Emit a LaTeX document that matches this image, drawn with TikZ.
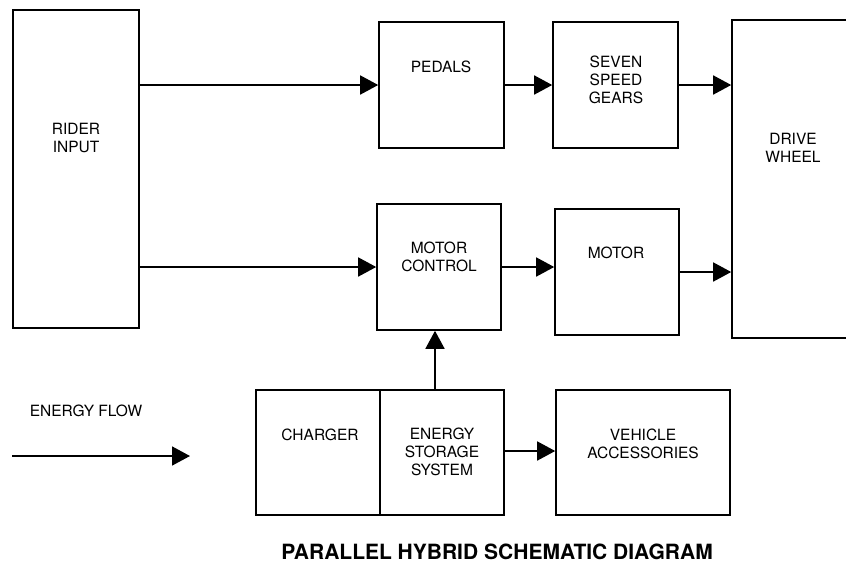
\documentclass[tikz,border=0pt]{standalone}
\usepackage{fontspec}
\setmainfont{TeX Gyre Heros}
\usetikzlibrary{arrows.meta}
\begin{document}
\begin{tikzpicture}[x=1pt,y=-1pt,
  box/.style={draw=black,line width=1.6pt,inner sep=0pt,anchor=center},
  lbl/.style={align=center,inner sep=0pt,font=\fontsize{15.5}{18}\selectfont},
  flow/.style={line width=1.6pt,-{Triangle[length=18pt,width=19pt]}}]
\useasboundingbox[fill=white] (0,0) rectangle (846,566);
% boxes
\node[box,minimum width=126pt,minimum height=318pt] (rider) at (76,169) {};
\node[box,minimum width=125pt,minimum height=126pt] (pedals) at (441.5,85) {};
\node[box,minimum width=125pt,minimum height=126pt] (gears) at (615.5,85) {};
\node[box,minimum width=168pt,minimum height=318pt] (wheel) at (816,179) {};
\node[box,minimum width=124pt,minimum height=126pt] (mc) at (439,267) {};
\node[box,minimum width=124pt,minimum height=126pt] (motor) at (617,272) {};
\node[box,minimum width=124pt,minimum height=125pt] (charger) at (318,452.5) {};
\node[box,minimum width=124pt,minimum height=125pt] (ess) at (442,452.5) {};
\node[box,minimum width=174pt,minimum height=125pt] (va) at (643,452.5) {};
% labels
\node[lbl] (trider) at (76,137.5) {RIDER\\INPUT};
\node[lbl] (tpedals) at (441,67) {PEDALS};
\node[lbl] (tgears) at (616,80) {SEVEN\\SPEED\\GEARS};
\node[lbl] (twheel) at (793,148) {DRIVE\\WHEEL};
\node[lbl] (tmc) at (439,257) {MOTOR\\CONTROL};
\node[lbl] (tmotor) at (616,253) {MOTOR};
\node[lbl] (tcharger) at (320,435) {CHARGER};
\node[lbl] (tess) at (442,452) {ENERGY\\STORAGE\\SYSTEM};
\node[lbl] (tva) at (643,444) {VEHICLE\\ACCESSORIES};
\node[lbl] (tflow) at (86,411) {ENERGY FLOW};
\node[inner sep=0pt,font=\fontsize{21}{24}\bfseries\selectfont] (title) at (497,552) {PARALLEL HYBRID SCHEMATIC DIAGRAM};
% connectors
\draw[flow] (rider.east |- pedals.west) -- (pedals.west);
\draw[flow] (rider.east |- mc.west) -- (mc.west);
\draw[flow] (pedals.east) -- (gears.west);
\draw[flow] (gears.east) -- (gears.east -| wheel.west);
\draw[flow] (mc.east) -- (mc.east -| motor.west);
\draw[flow] (motor.east) -- (motor.east -| wheel.west);
\draw[flow] ([xshift=-7pt]ess.north) -- ([xshift=-7pt]ess.north |- mc.south);
\draw[flow] ([yshift=1.5pt]ess.east) -- ([yshift=1.5pt]ess.east -| va.west);
\coordinate (f1) at (12,456);
\coordinate (f2) at (190,456);
\draw[flow] (f1) -- (f2);
\end{tikzpicture}
\end{document}
